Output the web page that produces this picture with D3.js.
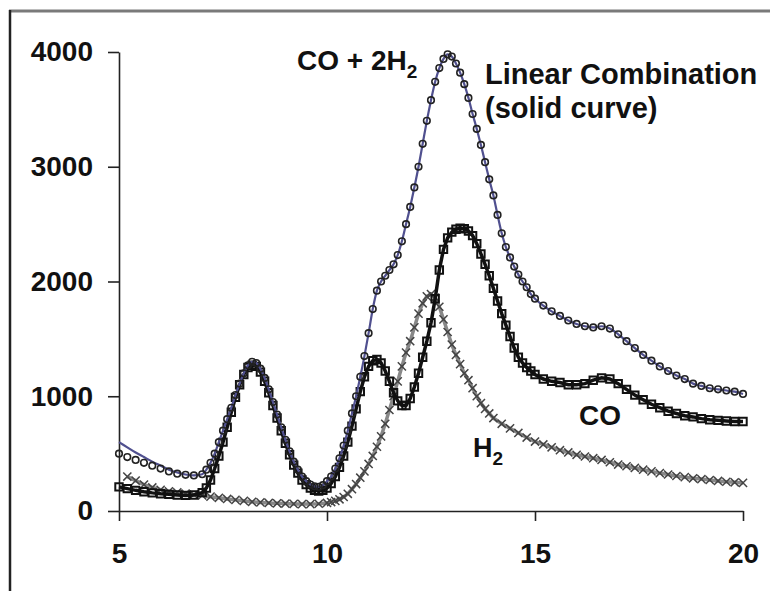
<!DOCTYPE html>
<html>
<head>
<meta charset="utf-8">
<script src="https://cdn.jsdelivr.net/npm/d3@7/dist/d3.min.js"></script>
<style>
  body { margin: 0; background: #fff; }
  text { font-family: "Liberation Sans", Arial, sans-serif; font-weight: bold; fill: #111; }
</style>
</head>
<body>
<div id="my_dataviz"></div>
<script>
// measured curves, [x, intensity]
var mixData = [[5,500],[5.2,470],[5.4,445],[5.6,420],[5.8,395],[6,370],[6.2,345],[6.4,325],[6.6,315],[6.8,310],
  [7,320],[7.1,360],[7.2,420],[7.3,500],[7.4,600],[7.5,700],[7.6,800],[7.7,900],[7.8,1010],[7.9,1110],
  [8,1200],[8.1,1270],[8.2,1300],[8.3,1290],[8.4,1240],[8.5,1160],[8.6,1060],[8.7,950],[8.8,840],[8.9,730],
  [9,620],[9.1,520],[9.2,430],[9.3,360],[9.4,300],[9.5,260],[9.6,230],[9.7,215],[9.8,210],[9.9,225],
  [10,260],[10.1,300],[10.2,370],[10.3,460],[10.4,570],[10.5,700],[10.6,850],[10.7,1000],[10.8,1170],[10.9,1350],
  [11,1550],[11.1,1760],[11.2,1920],[11.3,2000],[11.4,2050],[11.5,2100],[11.6,2150],[11.7,2230],[11.8,2350],[11.9,2500],
  [12,2650],[12.1,2820],[12.2,3000],[12.3,3200],[12.4,3400],[12.5,3580],[12.6,3740],[12.7,3860],[12.8,3940],[12.9,3980],
  [13,3960],[13.1,3900],[13.2,3820],[13.3,3720],[13.4,3600],[13.5,3460],[13.6,3330],[13.7,3190],[13.8,3040],[13.9,2890],
  [14,2750],[14.1,2580],[14.2,2420],[14.3,2300],[14.4,2210],[14.5,2130],[14.6,2060],[14.7,2000],[14.8,1950],[14.9,1890],
  [15,1850],[15.2,1790],[15.4,1740],[15.6,1700],[15.8,1660],[16,1630],[16.2,1610],[16.4,1600],[16.6,1610],[16.8,1590],
  [17,1540],[17.2,1480],[17.4,1420],[17.6,1360],[17.8,1310],[18,1260],[18.2,1220],[18.4,1180],[18.6,1150],[18.8,1110],
  [19,1090],[19.2,1070],[19.4,1060],[19.6,1050],[19.8,1040],[20,1020]];

// start of the linear combination where it leaves the circles
var fitHead = [[5,600],[5.2,555],[5.4,510],[5.6,470],[5.8,430],[6,395],[6.2,360],[6.4,335],[6.6,318]];

var coData = [[5,210],[5.2,195],[5.4,180],[5.6,168],[5.8,158],[6,150],[6.2,145],[6.4,140],[6.6,136],[6.8,140],
  [7,160],[7.1,200],[7.2,270],[7.3,370],[7.4,480],[7.5,600],[7.6,730],[7.7,860],[7.8,990],[7.9,1100],
  [8,1190],[8.1,1250],[8.2,1270],[8.3,1260],[8.4,1210],[8.5,1130],[8.6,1030],[8.7,920],[8.8,810],[8.9,700],
  [9,590],[9.1,490],[9.2,400],[9.3,330],[9.4,270],[9.5,230],[9.6,200],[9.7,180],[9.8,175],[9.9,180],
  [10,200],[10.1,240],[10.2,300],[10.3,380],[10.4,480],[10.5,600],[10.6,740],[10.7,890],[10.8,1040],[10.9,1170],
  [11,1260],[11.1,1310],[11.2,1320],[11.3,1290],[11.4,1220],[11.5,1130],[11.6,1030],[11.7,960],[11.8,920],[11.9,920],
  [12,980],[12.1,1080],[12.2,1200],[12.3,1340],[12.4,1480],[12.5,1640],[12.6,1850],[12.7,2100],[12.8,2280],[12.9,2380],
  [13,2430],[13.1,2455],[13.2,2465],[13.3,2460],[13.4,2440],[13.5,2400],[13.6,2330],[13.7,2240],[13.8,2150],[13.9,2050],
  [14,1940],[14.1,1830],[14.2,1720],[14.3,1620],[14.4,1520],[14.5,1420],[14.6,1340],[14.7,1290],[14.8,1250],[14.9,1220],
  [15,1190],[15.2,1150],[15.4,1130],[15.6,1120],[15.8,1100],[16,1100],[16.2,1110],[16.4,1140],[16.6,1160],[16.8,1150],
  [17,1110],[17.2,1060],[17.4,1010],[17.6,970],[17.8,930],[18,900],[18.2,870],[18.4,850],[18.6,830],[18.8,820],
  [19,805],[19.2,795],[19.4,790],[19.6,785],[19.8,780],[20,780]];

var h2Data = [[5.2,300],[5.4,265],[5.6,230],[5.8,205],[6,185],[6.2,172],[6.4,162],[6.6,152],[6.8,142],
  [7,135],[7.2,125],[7.4,115],[7.6,105],[7.8,97],[8,88],[8.2,80],[8.4,75],[8.6,70],[8.8,67],
  [9,65],[9.2,62],[9.4,60],[9.6,60],[9.8,63],[10,70],[10.1,78],[10.2,88],[10.3,102],[10.4,122],
  [10.5,150],[10.6,190],[10.7,235],[10.8,290],[10.9,345],[11,410],[11.1,480],[11.2,560],[11.3,650],[11.4,760],
  [11.5,880],[11.6,1000],[11.7,1130],[11.8,1260],[11.9,1380],[12,1480],[12.1,1600],[12.2,1720],[12.3,1810],[12.4,1870],
  [12.5,1890],[12.6,1860],[12.7,1780],[12.8,1670],[12.9,1560],[13,1450],[13.1,1360],[13.2,1280],[13.3,1200],[13.4,1140],
  [13.5,1070],[13.6,1000],[13.7,940],[13.8,890],[13.9,850],[14,810],[14.2,760],[14.4,720],[14.6,680],[14.8,640],
  [15,605],[15.2,580],[15.4,555],[15.6,530],[15.8,510],[16,490],[16.2,475],[16.4,460],[16.6,445],[16.8,425],
  [17,405],[17.2,390],[17.4,375],[17.6,360],[17.8,345],[18,330],[18.2,318],[18.4,305],[18.6,295],[18.8,285],
  [19,278],[19.2,270],[19.4,262],[19.6,255],[19.8,250],[20,245]];

var xTicks = [5, 10, 15, 20];
var yTicks = [0, 1000, 2000, 3000, 4000];

var fitData = fitHead.concat(mixData.filter(function (d) { return d[0] > 6.7; }));

var width = 770, height = 591;

var svg = d3.select("#my_dataviz")
  .append("svg")
  .attr("width", width)
  .attr("height", height);

// frame of the pasted figure
svg.append("line")
  .attr("x1", 9).attr("x2", width).attr("y1", 11).attr("y2", 11)
  .attr("stroke", "#7a7a7a").attr("stroke-width", 3);
svg.append("line")
  .attr("x1", 10).attr("x2", 10).attr("y1", 10).attr("y2", height)
  .attr("stroke", "#222").attr("stroke-width", 2.5);

var x = d3.scaleLinear().domain([5, 20]).range([119, 743]);
var y = d3.scaleLinear().domain([0, 4000]).range([511, 52]);

// axes
svg.append("g")
  .attr("transform", "translate(0,511)")
  .call(d3.axisBottom(x).tickValues(xTicks).tickSize(10).tickSizeOuter(0).tickPadding(22).tickFormat(d3.format("d")));
svg.append("g")
  .attr("transform", "translate(119,0)")
  .call(d3.axisLeft(y).tickValues(yTicks).tickSize(11).tickSizeOuter(0).tickPadding(15).tickFormat(d3.format("d")));

svg.selectAll(".domain, .tick line")
  .attr("stroke", "#222")
  .attr("stroke-width", 1.6);
svg.selectAll(".tick text")
  .style("font-size", "28px")
  .style("font-family", "'Liberation Sans', Arial, sans-serif")
  .style("font-weight", "bold")
  .attr("fill", "#111");

var line = d3.line()
  .x(function (d) { return x(d[0]); })
  .y(function (d) { return y(d[1]); });

function drawMarkers(data, shape, size, colour, sw) {
  svg.append("g")
    .selectAll("path")
    .data(data)
    .enter()
    .append("path")
    .attr("d", d3.symbol(shape, size))
    .attr("transform", function (d) { return "translate(" + x(d[0]) + "," + y(d[1]) + ")"; })
    .attr("fill", "none")
    .attr("stroke", colour)
    .attr("stroke-width", sw);
}

// H2: grey crosses
svg.append("path")
  .datum(h2Data)
  .attr("d", line)
  .attr("fill", "none")
  .attr("stroke", "#888")
  .attr("stroke-width", 3.5);
drawMarkers(h2Data, d3.symbolX, 45, "#444", 1.5);

// CO: open squares
svg.append("path")
  .datum(coData)
  .attr("d", line)
  .attr("fill", "none")
  .attr("stroke", "#111")
  .attr("stroke-width", 3.5);
drawMarkers(coData, d3.symbolSquare, 55, "#111", 2);

// linear combination (solid curve)
svg.append("path")
  .datum(fitData)
  .attr("d", line.curve(d3.curveMonotoneX))
  .attr("fill", "none")
  .attr("stroke", "#50508f")
  .attr("stroke-width", 2.2);

// CO + 2H2: open circles
drawMarkers(mixData, d3.symbolCircle, 34, "#222", 1.6);

// labels
var mixLabel = svg.append("text").attr("x", 297).attr("y", 70).style("font-size", "28px");
mixLabel.append("tspan").text("CO + 2H");
mixLabel.append("tspan").attr("dy", 8).style("font-size", "19px").text("2");

svg.append("text").attr("x", 485).attr("y", 84).style("font-size", "29px").text("Linear Combination");
svg.append("text").attr("x", 485).attr("y", 118).style("font-size", "29px").text("(solid curve)");

svg.append("text").attr("x", 579).attr("y", 425).style("font-size", "28px").text("CO");

var h2Label = svg.append("text").attr("x", 473).attr("y", 457).style("font-size", "27px");
h2Label.append("tspan").text("H");
h2Label.append("tspan").attr("dy", 8).style("font-size", "19px").text("2");
</script>
</body>
</html>
